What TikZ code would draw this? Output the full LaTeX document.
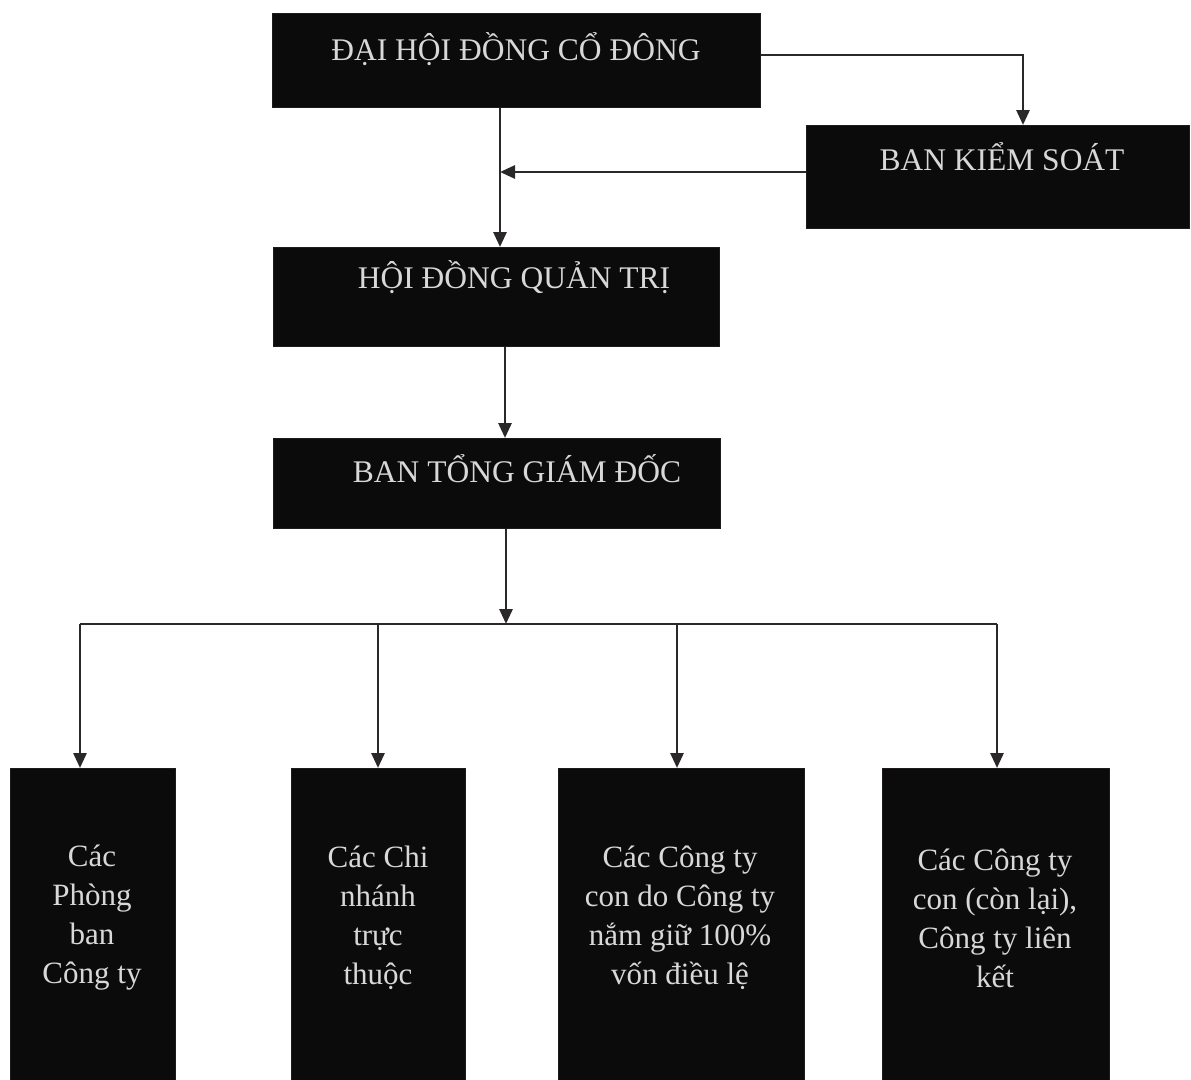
\documentclass[tikz,border=0pt]{standalone}
\usepackage{fontspec}
\setmainfont{Liberation Serif}
\usetikzlibrary{arrows.meta}
\definecolor{boxfill}{HTML}{0C0B0C}
\definecolor{boxedge}{HTML}{1E1A1E}
\definecolor{txt}{HTML}{D8D8D8}
\definecolor{wire}{HTML}{2B2829}
\tikzset{
  orgbox/.style={draw=boxedge, fill=boxfill, line width=1.2pt, anchor=north west, inner sep=0pt},
  headtxt/.style={text=txt, anchor=base, inner sep=0pt, font=\fontsize{31.5}{36}\selectfont},
  celltxt/.style={text=txt, anchor=center, align=center, inner sep=0pt, font=\fontsize{31}{39}\selectfont},
  arr/.style={draw=wire, line width=2.8pt, -{Triangle[length=15pt,width=13pt]}},
  wireline/.style={draw=wire, line width=2.8pt}
}
\begin{document}
\begin{tikzpicture}[x=1pt,y=-1pt]
\useasboundingbox (0,0) rectangle (1191,1079);
% boxes
\node[orgbox, minimum width=488pt, minimum height=94pt] (dh) at (272,13) {};
\node[orgbox, minimum width=383pt, minimum height=103pt] (bks) at (806,125) {};
\node[orgbox, minimum width=446pt, minimum height=99pt] (hq) at (273,247) {};
\node[orgbox, minimum width=447pt, minimum height=90pt] (tgd) at (273,438) {};
\node[orgbox, minimum width=165pt, minimum height=312pt] (b1) at (10,768) {};
\node[orgbox, minimum width=174pt, minimum height=312pt] (b2) at (291,768) {};
\node[orgbox, minimum width=246pt, minimum height=312pt] (b3) at (558,768) {};
\node[orgbox, minimum width=227pt, minimum height=312pt] (b4) at (882,768) {};
% texts
\node[headtxt] (tdh) at (516,60) {ĐẠI HỘI ĐỒNG CỔ ĐÔNG};
\node[headtxt] (tbks) at (1002,170) {BAN KIỂM SOÁT};
\node[headtxt] (thq) at (514,288) {HỘI ĐỒNG QUẢN TRỊ};
\node[headtxt] (ttgd) at (517,482) {BAN TỔNG GIÁM ĐỐC};
\node[celltxt] (tb1) at (92,918) {Các\\Phòng\\ban\\Công ty};
\node[celltxt] (tb2) at (378,918) {Các Chi\\nhánh\\trực\\thuộc};
\node[celltxt] (tb3) at (680,918) {Các Công ty\\con do Công ty\\nắm giữ 100\%\\vốn điều lệ};
\node[celltxt] (tb4) at (995,918) {Các Công ty\\con (còn lại),\\Công ty liên\\kết};
% connector coordinates
\coordinate (c1) at (500,0);
\coordinate (c2) at (1023,55);
\coordinate (c3) at (500,172);
\coordinate (c4) at (505,0);
\coordinate (c5) at (506,624);
\coordinate (busL) at (80,624);
\coordinate (bus2) at (378,624);
\coordinate (bus3) at (677,624);
\coordinate (busR) at (997,624);
% connectors
\draw[arr] (dh.south -| c1) -- (hq.north -| c1);
\draw[arr] (dh.east |- c2) -- (c2) -- (bks.north -| c2);
\draw[arr] (bks.west |- c3) -- (c3);
\draw[arr] (hq.south -| c4) -- (tgd.north -| c4);
\draw[arr] (tgd.south -| c5) -- (c5);
\draw[wireline] (busL) -- (busR);
\draw[arr] (busL) -- (b1.north -| busL);
\draw[arr] (bus2) -- (b2.north -| bus2);
\draw[arr] (bus3) -- (b3.north -| bus3);
\draw[arr] (busR) -- (b4.north -| busR);
\end{tikzpicture}
\end{document}
